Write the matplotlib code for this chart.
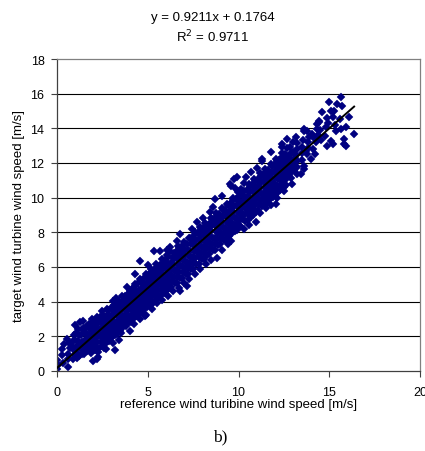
import matplotlib
matplotlib.use("Agg")
import matplotlib.pyplot as plt

# ─── data: reference vs target turbine wind speed [m/s] ──
# edges / outliers of the cloud
ref_speed = [
    0.0, 0.02, 0.08, 0.3, 0.35, 0.28, 0.4,
    0.62, 0.6, 0.65, 0.55, 0.7, 0.58,
    0.9, 0.92, 0.88, 0.95, 0.85, 1.0, 1.09,
    1.18, 1.27, 1.2, 1.25, 1.22, 1.3, 1.15, 1.0, 1.45,
    1.5, 1.45, 1.55, 1.52, 1.48, 1.6,
    1.8, 1.85, 1.75, 1.82, 1.92, 1.78, 1.9, 1.92,
    2.0, 2.19, 2.28, 2.1, 2.15, 2.05, 2.12, 2.2, 2.08,
    2.28, 2.4, 2.45, 2.38, 2.42, 2.47, 2.35, 2.5,
    2.7, 2.72, 2.68, 2.75, 2.65, 2.8, 2.7, 2.78,
    3.0, 3.05, 2.98, 3.02, 3.08, 2.95, 3.11, 3.2, 3.1,
    3.3, 3.32, 3.28, 3.35, 3.3, 3.38, 3.25, 3.4,
    3.6, 3.62, 3.58, 3.65, 3.6, 3.57, 3.68, 3.55,
    3.9, 3.92, 3.88, 3.95, 3.9, 3.85, 3.98, 4.03,
    4.2, 4.22, 4.18, 4.25, 4.2, 4.15, 4.28, 4.31, 4.22,
    4.5, 4.52, 4.48, 4.55, 4.5, 4.59, 4.45, 4.59, 4.6,
    4.8, 4.82, 4.78, 4.85, 4.8, 4.75, 4.86, 4.9, 4.88,
    5.1, 5.12, 5.08, 5.15, 5.1, 5.05, 5.18, 5.23, 5.0,
    5.41, 5.42, 5.38, 5.45, 5.4, 5.35, 5.48, 5.32, 5.5,
    5.7, 5.72, 5.68, 5.75, 5.7, 5.65, 5.78, 5.69, 5.8,
    6.0, 6.02, 5.98, 6.05, 6.0, 5.95, 6.08, 6.1, 6.05,
    6.3, 6.32, 6.28, 6.35, 6.3, 6.24, 6.38, 6.25, 6.4,
    6.6, 6.62, 6.58, 6.65, 6.6, 6.55, 6.68, 6.7, 6.62,
    6.8, 6.9, 6.92, 6.88, 6.95, 6.9, 6.85, 6.8, 6.98, 7.0,
    7.17, 7.2, 7.22, 7.18, 7.25, 7.2, 7.15, 7.28, 7.3,
    7.5, 7.52, 7.48, 7.55, 7.5, 7.45, 7.58, 7.6, 7.42,
    7.8, 7.82, 7.78, 7.85, 7.8, 7.72, 7.88, 7.75, 7.9,
    8.1, 8.12, 8.08, 8.15, 8.1, 8.05, 8.18, 8.2, 8.02,
    8.4, 8.42, 8.38, 8.45, 8.4, 8.35, 8.45, 8.48, 8.5,
    8.7, 8.72, 8.68, 8.75, 8.7, 8.65, 8.73, 8.78, 8.82, 8.6,
    9.0, 9.02, 8.98, 9.05, 9.0, 8.95, 9.1, 9.08, 9.1,
    9.3, 9.32, 9.28, 9.35, 9.3, 9.25, 9.38, 9.4,
    9.56, 9.6, 9.62, 9.58, 9.65, 9.6, 9.55, 9.56, 9.68, 9.52,
    9.9, 9.92, 9.88, 9.95, 9.9, 9.85, 9.93, 9.74, 9.98, 9.8,
    10.1, 10.2, 10.22, 10.18, 10.25, 10.2, 10.15, 10.28, 10.3,
    10.5, 10.52, 10.48, 10.55, 10.5, 10.45, 10.58, 10.4, 10.6,
    10.94, 10.8, 10.82, 10.78, 10.85, 10.8, 10.75, 10.88, 10.7,
    11.1, 11.12, 11.08, 11.15, 11.1, 11.05, 11.18, 11.31, 11.2, 11.0,
    11.4, 11.42, 11.38, 11.45, 11.4, 11.35, 11.48, 11.31, 11.5,
    11.7, 11.72, 11.68, 11.75, 11.7, 11.65, 11.77, 11.78, 11.8,
    12.04, 12.0, 12.02, 11.98, 12.05, 12.0, 11.95, 12.08, 12.1,
    12.3, 12.32, 12.28, 12.35, 12.3, 12.25, 12.41, 12.38,
    12.5, 12.6, 12.62, 12.58, 12.65, 12.6, 12.55, 12.69, 12.68, 12.41,
    12.97, 12.9, 12.92, 12.88, 12.95, 12.9, 12.85, 13.0,
    13.24, 13.2, 13.22, 13.18, 13.25, 13.2, 13.15,
    13.43, 13.6, 13.6, 13.5, 13.52, 13.48, 13.6, 13.6, 13.55, 13.7,
    13.98, 13.8, 13.85, 13.82, 13.9, 13.78,
    14.07, 14.25, 14.1, 14.15, 14.35, 14.2,
    14.44, 14.44, 14.4, 14.5, 14.55, 14.62, 14.3,
    14.75, 14.8, 14.99, 14.85, 14.9, 15.08, 14.95,
    15.18, 15.27, 15.18, 15.08, 15.45, 15.3, 15.35,
    15.64, 15.73, 15.64, 15.82, 15.82, 15.91, 15.6,
    16.1, 16.37, 15.95,
    # dense core of the band
    1.08, 1.03, 1.09, 1.01, 1.06,
    1.38, 1.33, 1.39, 1.31, 1.36,
    1.68, 1.63, 1.69, 1.61, 1.66,
    1.98, 1.93, 1.99, 1.91, 1.96,
    2.28, 2.23, 2.29, 2.21, 2.26, 2.22,
    2.58, 2.53, 2.59, 2.51, 2.56, 2.52,
    2.88, 2.83, 2.89, 2.81, 2.86, 2.82,
    3.18, 3.13, 3.19, 3.11, 3.16, 3.12,
    3.48, 3.43, 3.49, 3.41, 3.46, 3.42,
    3.78, 3.73, 3.79, 3.71, 3.76, 3.72,
    4.08, 4.03, 4.09, 4.01, 4.06, 4.02,
    4.38, 4.33, 4.39, 4.31, 4.36, 4.32,
    4.68, 4.63, 4.69, 4.61, 4.66, 4.62,
    4.98, 4.93, 4.99, 4.91, 4.96, 4.92,
    5.28, 5.23, 5.29, 5.21, 5.26, 5.22,
    5.58, 5.53, 5.59, 5.51, 5.56, 5.52,
    5.88, 5.83, 5.89, 5.81, 5.86, 5.82,
    6.18, 6.13, 6.19, 6.11, 6.16, 6.12,
    6.48, 6.43, 6.49, 6.41, 6.46, 6.42,
    6.78, 6.73, 6.79, 6.71, 6.76, 6.72,
    7.08, 7.03, 7.09, 7.01, 7.06, 7.02,
    7.38, 7.33, 7.39, 7.31, 7.36, 7.32,
    7.68, 7.63, 7.69, 7.61, 7.66, 7.62,
    7.98, 7.93, 7.99, 7.91, 7.96, 7.92,
    8.28, 8.23, 8.29, 8.21, 8.26, 8.22,
    8.58, 8.53, 8.59, 8.51, 8.56, 8.52,
    8.88, 8.83, 8.89, 8.81, 8.86, 8.82,
    9.18, 9.13, 9.19, 9.11, 9.16, 9.12,
    9.48, 9.43, 9.49, 9.41, 9.46, 9.42,
    9.78, 9.73, 9.79, 9.71, 9.76, 9.72,
    10.08, 10.03, 10.09, 10.01, 10.06, 10.02,
    10.38, 10.33, 10.39, 10.31, 10.36, 10.32,
    10.68, 10.63, 10.69, 10.61, 10.66, 10.62,
    10.98, 10.93, 10.99, 10.91, 10.96, 10.92,
    11.28, 11.23, 11.29, 11.21, 11.26, 11.22,
    11.58, 11.53, 11.59, 11.51, 11.56, 11.52,
    11.88, 11.83, 11.89, 11.81, 11.86, 11.82,
    12.18, 12.13, 12.19, 12.11, 12.16, 12.12,
    12.48, 12.43, 12.49, 12.41, 12.46, 12.42,
    12.78, 12.73, 12.79, 12.71,
    13.08, 13.03, 13.09, 13.01,
]
target_speed = [
    0.12, 0.62, 0.35, 0.9, 0.45, 1.25, 1.55,
    0.25, 1.0, 1.6, 1.85, 1.3, 0.7,
    0.7, 1.2, 1.75, 2.05, 1.45, 0.95, 0.88,
    1.75, 2.8, 0.85, 1.3, 2.1, 1.55, 2.4, 2.65, 2.9,
    1.0, 1.4, 1.8, 2.2, 2.5, 1.2,
    1.3, 1.7, 2.05, 2.4, 3.0, 2.7, 1.05, 1.27,
    0.6, 0.69, 0.79, 1.5, 1.9, 2.3, 2.65, 2.95, 1.2,
    1.27, 1.7, 2.05, 2.45, 2.8, 3.48, 3.1, 1.45,
    1.6, 2.0, 2.35, 2.7, 3.05, 3.3, 1.25, 3.6,
    1.9, 2.25, 2.6, 2.95, 3.3, 3.65, 4.06, 1.2, 1.6,
    2.13, 2.5, 2.85, 3.2, 3.55, 3.9, 4.2, 1.8,
    2.5, 2.85, 3.2, 3.55, 3.9, 4.35, 4.1, 2.2,
    2.75, 3.1, 3.45, 3.8, 4.15, 4.83, 4.5, 2.33,
    3.0, 3.35, 3.7, 4.05, 4.4, 4.75, 5.0, 5.6, 2.7,
    3.3, 3.65, 4.0, 4.35, 4.7, 5.31, 5.05, 6.37, 3.0,
    3.55, 3.9, 4.25, 4.6, 4.95, 5.3, 3.19, 5.6, 3.25,
    3.85, 4.2, 4.55, 4.9, 5.25, 5.6, 5.9, 3.58, 6.1,
    4.06, 4.45, 4.8, 5.15, 5.5, 5.85, 6.2, 6.94, 3.9,
    4.3, 4.7, 5.05, 5.4, 5.75, 6.1, 6.45, 6.94, 4.1,
    4.6, 4.95, 5.3, 5.65, 6.0, 6.35, 6.7, 4.3, 7.0,
    4.85, 5.2, 5.55, 5.9, 6.25, 7.14, 6.6, 6.9, 4.6,
    5.1, 5.45, 5.8, 6.15, 6.5, 6.85, 7.2, 4.8, 7.5,
    4.63, 5.35, 5.7, 6.05, 6.4, 6.75, 7.1, 7.9, 7.45, 5.05,
    4.92, 5.6, 5.95, 6.3, 6.65, 7.0, 7.35, 7.7, 5.3,
    5.9, 6.25, 6.6, 6.95, 7.3, 7.65, 8.0, 5.6, 8.2,
    6.2, 6.55, 6.9, 7.25, 7.6, 8.58, 8.3, 7.95, 5.9,
    6.45, 6.8, 7.15, 7.5, 7.85, 8.2, 8.55, 6.2, 8.8,
    6.75, 7.1, 7.45, 7.8, 8.15, 8.5, 9.16, 8.85, 6.4,
    7.0, 7.35, 7.7, 8.05, 8.4, 8.75, 9.93, 9.1, 6.5, 9.45,
    7.3, 7.65, 8.0, 8.35, 8.7, 9.05, 10.1, 9.4, 7.0,
    7.55, 7.9, 8.25, 8.6, 8.95, 9.3, 9.65, 7.3,
    7.52, 7.9, 8.25, 8.6, 8.95, 9.3, 9.65, 10.69, 10.0, 10.8,
    8.15, 8.5, 8.85, 9.2, 9.55, 9.9, 11.17, 11.08, 10.3, 10.55,
    8.38, 8.75, 9.1, 9.45, 9.8, 10.15, 10.5, 10.85, 8.2,
    8.7, 9.05, 9.4, 9.75, 10.1, 10.45, 10.8, 11.2, 8.45,
    8.58, 9.0, 9.35, 9.7, 10.05, 10.4, 10.75, 11.1, 11.5,
    9.3, 9.65, 10.0, 10.35, 10.7, 11.05, 11.4, 12.23, 9.1, 11.7,
    9.55, 9.9, 10.25, 10.6, 10.95, 11.3, 11.65, 12.14, 9.4,
    9.85, 10.2, 10.55, 10.9, 11.25, 11.6, 12.62, 11.95, 9.6,
    9.64, 10.15, 10.5, 10.85, 11.2, 11.55, 11.9, 12.25, 10.0,
    10.45, 10.8, 11.15, 11.5, 11.85, 12.2, 12.9, 12.55,
    10.4, 10.75, 11.1, 11.45, 11.8, 12.15, 12.5, 13.39, 12.85, 13.1,
    10.79, 11.15, 11.5, 11.85, 12.2, 12.55, 12.9, 13.2,
    11.37, 11.75, 12.1, 12.45, 12.8, 13.15, 13.5,
    11.37, 11.66, 11.85, 12.2, 12.55, 12.9, 13.96, 13.87, 13.3, 12.71,
    12.23, 12.5, 12.85, 13.2, 13.5, 13.85,
    13.68, 13.2, 12.8, 13.45, 14.25, 12.5,
    14.35, 14.44, 13.6, 13.9, 13.3, 14.93, 13.95,
    13.55, 14.1, 15.5, 14.6, 13.0, 15.02, 14.3,
    14.64, 15.0, 13.1, 13.29, 15.4, 14.2, 13.85,
    15.8, 15.27, 13.96, 13.39, 13.1, 13.0, 14.55,
    14.64, 13.68, 14.1,
    # dense core of the band
    0.75, 1.1, 1.45, 1.8, 2.2,
    1.0, 1.35, 1.7, 2.05, 2.4,
    1.15, 1.5, 1.85, 2.2, 2.6,
    1.45, 1.8, 2.15, 2.5, 2.85,
    1.1, 1.7, 2.05, 2.4, 2.75, 3.1,
    1.35, 1.85, 2.2, 2.55, 2.9, 3.25,
    1.75, 2.1, 2.45, 2.8, 3.15, 3.5,
    2.05, 2.4, 2.75, 3.1, 3.45, 3.8,
    2.3, 2.65, 3.0, 3.35, 3.7, 4.05,
    2.6, 2.95, 3.3, 3.65, 4.0, 4.35,
    2.85, 3.2, 3.55, 3.9, 4.25, 4.6,
    3.15, 3.5, 3.85, 4.2, 4.55, 4.9,
    3.4, 3.75, 4.1, 4.45, 4.8, 5.15,
    3.7, 4.05, 4.4, 4.75, 5.1, 5.45,
    3.95, 4.3, 4.65, 5.0, 5.35, 5.7,
    4.25, 4.6, 4.95, 5.3, 5.65, 6.0,
    4.5, 4.85, 5.2, 5.55, 5.9, 6.25,
    4.8, 5.15, 5.5, 5.85, 6.2, 6.55,
    5.05, 5.4, 5.75, 6.1, 6.45, 6.8,
    5.35, 5.7, 6.05, 6.4, 6.75, 7.1,
    5.6, 5.95, 6.3, 6.65, 7.0, 7.35,
    5.9, 6.25, 6.6, 6.95, 7.3, 7.65,
    6.15, 6.5, 6.85, 7.2, 7.55, 7.9,
    6.45, 6.8, 7.15, 7.5, 7.85, 8.2,
    6.7, 7.05, 7.4, 7.75, 8.1, 8.45,
    7.0, 7.35, 7.7, 8.05, 8.4, 8.75,
    7.25, 7.6, 7.95, 8.3, 8.65, 9.0,
    7.55, 7.9, 8.25, 8.6, 8.95, 9.3,
    7.8, 8.15, 8.5, 8.85, 9.2, 9.55,
    8.1, 8.45, 8.8, 9.15, 9.5, 9.85,
    8.35, 8.7, 9.05, 9.4, 9.75, 10.1,
    8.65, 9.0, 9.35, 9.7, 10.05, 10.4,
    8.9, 9.25, 9.6, 9.95, 10.3, 10.65,
    9.2, 9.55, 9.9, 10.25, 10.6, 10.95,
    9.5, 9.85, 10.2, 10.55, 10.9, 11.25,
    9.75, 10.1, 10.45, 10.8, 11.15, 11.5,
    10.05, 10.4, 10.75, 11.1, 11.45, 11.8,
    10.35, 10.7, 11.05, 11.4, 11.75, 12.1,
    10.6, 10.95, 11.3, 11.65, 12.0, 12.35,
    11.3, 11.65, 12.0, 12.35,
    11.6, 11.95, 12.3, 12.65,
]

# linear trend as printed on the chart
SLOPE, INTERCEPT, R2 = 0.9211, 0.1764, 0.9711
trend_x = [0.0, max(ref_speed)]
trend_y = [SLOPE * v + INTERCEPT for v in trend_x]

x_ticks = [0, 5, 10, 15, 20]
y_ticks = [0, 2, 4, 6, 8, 10, 12, 14, 16, 18]

NAVY = "#000080"
GRAY = "#808080"
FONT = "Liberation Sans"

# ─── figure ───────────────────────────────────────────────────────────────────
fig = plt.figure(figsize=(4.25, 4.52), dpi=100)
ax = fig.add_axes([57 / 425, 80 / 452, 363 / 425, 312 / 452])

for yv in y_ticks[1:-1]:
    ax.axhline(yv, color="black", lw=0.8, zorder=1)

ax.plot(ref_speed, target_speed, ls="none", marker="D", ms=3.6,
        mfc=NAVY, mec=NAVY, mew=0.3, zorder=2)
ax.plot(trend_x, trend_y, color="black", lw=1.4, zorder=3)

ax.set_xlim(0, 20)
ax.set_ylim(0, 18)
ax.set_xticks(x_ticks)
ax.set_yticks(y_ticks)
ax.set_xticklabels([str(v) for v in x_ticks], fontsize=9, family=FONT)
ax.set_yticklabels([str(v) for v in y_ticks], fontsize=9, family=FONT)
ax.tick_params(direction="out", length=4, width=0.8, color="#404040")
ax.tick_params(axis="x", pad=7)
ax.tick_params(axis="y", pad=5)

for side in ["top", "right"]:
    ax.spines[side].set_color(GRAY)
    ax.spines[side].set_linewidth(0.9)
for side in ["left", "bottom"]:
    ax.spines[side].set_color("#404040")
    ax.spines[side].set_linewidth(0.9)

ax.set_xlabel("reference wind turibine wind speed [m/s]", fontsize=9.5,
              family=FONT, labelpad=0)
ax.set_ylabel("target wind turbine wind speed [m/s]", fontsize=9.5,
              family=FONT, labelpad=4)

fig.text(213 / 425, 1 - 18 / 452, f"y = {SLOPE}x + {INTERCEPT}",
         ha="center", va="center", fontsize=9.5, family=FONT)
fig.text(213 / 425, 1 - 37 / 452, f"R$^2$ = {R2}",
         ha="center", va="center", fontsize=9.5, family=FONT)
fig.text(220 / 425, 1 - 437 / 452, "b)", ha="center", va="center",
         fontsize=12.5, family="Liberation Serif")

fig.savefig("out.png", dpi=100, facecolor="white")
